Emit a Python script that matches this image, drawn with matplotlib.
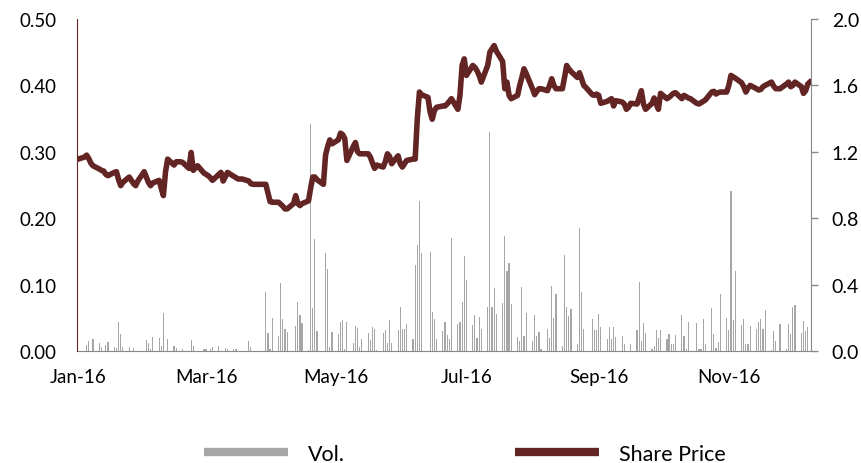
## 股價與成交量 (2016) - 日資料
import pandas as pd
import matplotlib
matplotlib.use('Agg')
import matplotlib.pyplot as plt
import matplotlib.dates as mdates
from matplotlib.lines import Line2D
from matplotlib.ticker import FormatStrFormatter

plt.rcParams['font.family'] = ['Lato', 'DejaVu Sans']
plt.rcParams['font.size'] = 13.5

# ---- 資料 (交易日, 2016-01-01 ~ 2016-12-09) ----
dates = pd.bdate_range('2016-01-01', '2016-12-09')

price_jan = [0.289, 0.292, 0.295, 0.290, 0.283, 0.279, 0.274, 0.272, 0.271, 0.266, 0.264,
             0.269, 0.270, 0.258, 0.249, 0.254, 0.262, 0.257, 0.252, 0.249, 0.256]
price_feb = [0.270, 0.262, 0.254, 0.249, 0.253, 0.257, 0.245, 0.234, 0.270, 0.289, 0.280,
             0.285, 0.285, 0.285, 0.284, 0.275, 0.299, 0.272, 0.276, 0.279, 0.268]
price_mar = [0.266, 0.264, 0.261, 0.257, 0.266, 0.269, 0.256, 0.262, 0.269, 0.263, 0.261,
             0.259, 0.259, 0.259, 0.256, 0.252, 0.251, 0.251, 0.251, 0.251, 0.251, 0.238, 0.225]
price_apr = [0.224, 0.224, 0.221, 0.218, 0.214, 0.214, 0.222, 0.234, 0.222, 0.219, 0.222,
             0.226, 0.245, 0.262, 0.262, 0.258, 0.251, 0.295, 0.308, 0.318, 0.312]
price_may = [0.318, 0.328, 0.326, 0.320, 0.287, 0.308, 0.314, 0.300, 0.297, 0.297, 0.297,
             0.292, 0.283, 0.275, 0.280, 0.277, 0.285, 0.297, 0.293, 0.282, 0.294, 0.282]
price_jun = [0.277, 0.282, 0.287, 0.289, 0.289, 0.350, 0.390, 0.386, 0.382, 0.360, 0.349,
             0.362, 0.367, 0.369, 0.369, 0.372, 0.376, 0.380, 0.364, 0.385, 0.430, 0.440]
price_jul = [0.415, 0.430, 0.427, 0.422, 0.415, 0.405, 0.430, 0.450, 0.455, 0.460, 0.452,
             0.436, 0.395, 0.405, 0.385, 0.380, 0.385, 0.400, 0.412, 0.425, 0.418]
price_aug = [0.395, 0.386, 0.391, 0.395, 0.395, 0.392, 0.400, 0.410, 0.400, 0.395, 0.395,
             0.412, 0.430, 0.425, 0.421, 0.412, 0.419, 0.410, 0.400, 0.397, 0.386, 0.385, 0.387]
price_sep = [0.385, 0.373, 0.376, 0.378, 0.380, 0.369, 0.377, 0.375, 0.372, 0.364, 0.367,
             0.373, 0.372, 0.382, 0.392, 0.372, 0.364, 0.373, 0.381, 0.372, 0.364, 0.388]
price_oct = [0.380, 0.382, 0.385, 0.388, 0.389, 0.380, 0.385, 0.383, 0.381, 0.380, 0.373,
             0.372, 0.374, 0.376, 0.378, 0.390, 0.391, 0.387, 0.389, 0.390, 0.390]
price_nov = [0.400, 0.415, 0.413, 0.411, 0.404, 0.398, 0.390, 0.396, 0.400, 0.395, 0.393,
             0.394, 0.398, 0.400, 0.405, 0.399, 0.395, 0.395, 0.395, 0.402, 0.405, 0.398]
price_dec = [0.400, 0.405, 0.398, 0.388, 0.392, 0.402, 0.405]

vol_jan = [0, 0, 0.038, 0.058, 0, 0.072, 0.050, 0.024, 0, 0.038, 0.056,
           0.026, 0.018, 0.175, 0.104, 0.026, 0.026, 0, 0.018, 0, 0]
vol_feb = [0, 0.068, 0.048, 0.010, 0.086, 0.080, 0.032, 0.231, 0, 0.074, 0.030,
           0.016, 0, 0, 0.010, 0, 0.068, 0.032, 0, 0, 0.014]
vol_mar = [0.010, 0, 0.010, 0.024, 0.028, 0, 0, 0.018, 0.014, 0.010, 0.014,
           0, 0, 0, 0.062, 0.026, 0, 0, 0, 0, 0.355, 0.110, 0.010]
vol_apr = [0.201, 0.092, 0.410, 0.193, 0.135, 0.114, 0, 0.151, 0.295, 0.217, 0.169,
           0.006, 1.370, 0.261, 0.673, 0.118, 0, 0.590, 0.492, 0.024, 0.114]
vol_may = [0.104, 0.177, 0.185, 0.014, 0.177, 0.048, 0.151, 0.141, 0.024, 0.074, 0.108,
           0.066, 0.145, 0.135, 0.008, 0.108, 0.127, 0.050, 0.185, 0.048, 0.125, 0.265]
vol_jun = [0.135, 0.135, 0.163, 0.070, 0.516, 0.641, 0.904, 0.590, 0, 0.596, 0.235,
           0.195, 0.070, 0.122, 0.177, 0.099, 0.074, 0.681, 0.165, 0.177, 0.295, 0.572]
vol_jul = [0.430, 0.159, 0.219, 0.080, 0.205, 0.130, 0.265, 1.319, 0.265, 0.382, 0.221,
           0.291, 0.693, 0.480, 0.530, 0.285, 0.084, 0.058, 0.386, 0.090, 0.231]
vol_aug = [0.060, 0.219, 0.090, 0.114, 0.010, 0.135, 0.080, 0.392, 0.201, 0.345, 0.028,
           0.580, 0.265, 0.211, 0.255, 0.044, 0.741, 0.355, 0.135, 0, 0.195, 0.125, 0.129]
vol_sep = [0.225, 0.145, 0.074, 0.145, 0.074, 0.145, 0.084, 0.090, 0.040, 0, 0,
           0.040, 0.129, 0.416, 0.060, 0.169, 0.110, 0.014, 0.028, 0.129, 0.080, 0.129]
vol_oct = [0.074, 0.104, 0.044, 0.040, 0.094, 0.219, 0.088, 0.014, 0.175, 0, 0.171,
           0.014, 0.014, 0.191, 0.040, 0.259, 0.104, 0.020, 0.054, 0.345, 0.199]
vol_nov = [0.125, 0.961, 0.185, 0.480, 0.155, 0.195, 0.044, 0.044, 0.151, 0.135, 0.175,
           0.191, 0.135, 0.245, 0.008, 0.118, 0.060, 0, 0.165, 0.010, 0.165, 0.104]
vol_dec = [0.265, 0.275, 0.108, 0.181, 0.120, 0.145, 0]

price = (price_jan + price_feb + price_mar + price_apr + price_may + price_jun +
         price_jul + price_aug + price_sep + price_oct + price_nov + price_dec)
vol = (vol_jan + vol_feb + vol_mar + vol_apr + vol_may + vol_jun +
       vol_jul + vol_aug + vol_sep + vol_oct + vol_nov + vol_dec)

lineColor = '#632523'
barColor = '#A6A6A6'
axisColor = '#898989'

# ---- 繪圖 ----
fig = plt.figure(figsize=(8.62, 4.64), dpi=100)
ax_vol = fig.add_axes([0.0893, 0.2414, 0.8515, 0.7155])
ax_px = ax_vol.twinx()

# 成交量 (右軸)
ax_vol.bar(dates, vol, width=0.55, color=barColor, linewidth=0)
ax_vol.set_ylim(0, 2.0)
ax_vol.set_yticks([0, 0.4, 0.8, 1.2, 1.6, 2.0])
ax_vol.yaxis.set_major_formatter(FormatStrFormatter('%.1f'))
ax_vol.yaxis.tick_right()
ax_vol.tick_params(axis='y', direction='out', length=5, width=1, color=axisColor,
                   pad=10, labelsize=14)

# 股價 (左軸)
ax_px.plot(dates, price, color=lineColor, linewidth=4.0, solid_joinstyle='round')
ax_px.set_ylim(0, 0.5)
ax_px.set_yticks([0, 0.1, 0.2, 0.3, 0.4, 0.5])
ax_px.yaxis.set_major_formatter(FormatStrFormatter('%.2f'))
ax_px.yaxis.tick_left()
ax_px.tick_params(axis='y', length=0, pad=15)

# x 軸 (日期)
ax_vol.set_xlim(pd.Timestamp('2016-01-01') - pd.Timedelta(hours=12),
                pd.Timestamp('2016-12-09') + pd.Timedelta(hours=12))
ax_vol.xaxis.set_major_locator(mdates.MonthLocator(bymonth=[1, 3, 5, 7, 9, 11]))
ax_vol.xaxis.set_major_formatter(mdates.DateFormatter('%b-%y'))
ax_vol.tick_params(axis='x', length=0, pad=12)

# Axis style
for ax in (ax_vol, ax_px):
    ax.spines['top'].set_visible(False)
ax_vol.spines['left'].set_visible(False)
ax_vol.spines['right'].set_color(axisColor)
ax_vol.spines['bottom'].set_color(axisColor)
ax_px.spines['right'].set_visible(False)
ax_px.spines['bottom'].set_visible(False)
ax_px.spines['left'].set_color(lineColor)

# 圖例
handles = [Line2D([], [], color=barColor, lw=6, solid_capstyle='butt'),
           Line2D([], [], color=lineColor, lw=6, solid_capstyle='butt')]
fig.legend(handles, ['Vol.', 'Share Price'], loc='center', bbox_to_anchor=(0.539, 0.02),
           ncol=2, frameon=False, fontsize=15.5, handlelength=3.9, handletextpad=0.93,
           columnspacing=7.9)

fig.savefig('out.png', dpi=100)
